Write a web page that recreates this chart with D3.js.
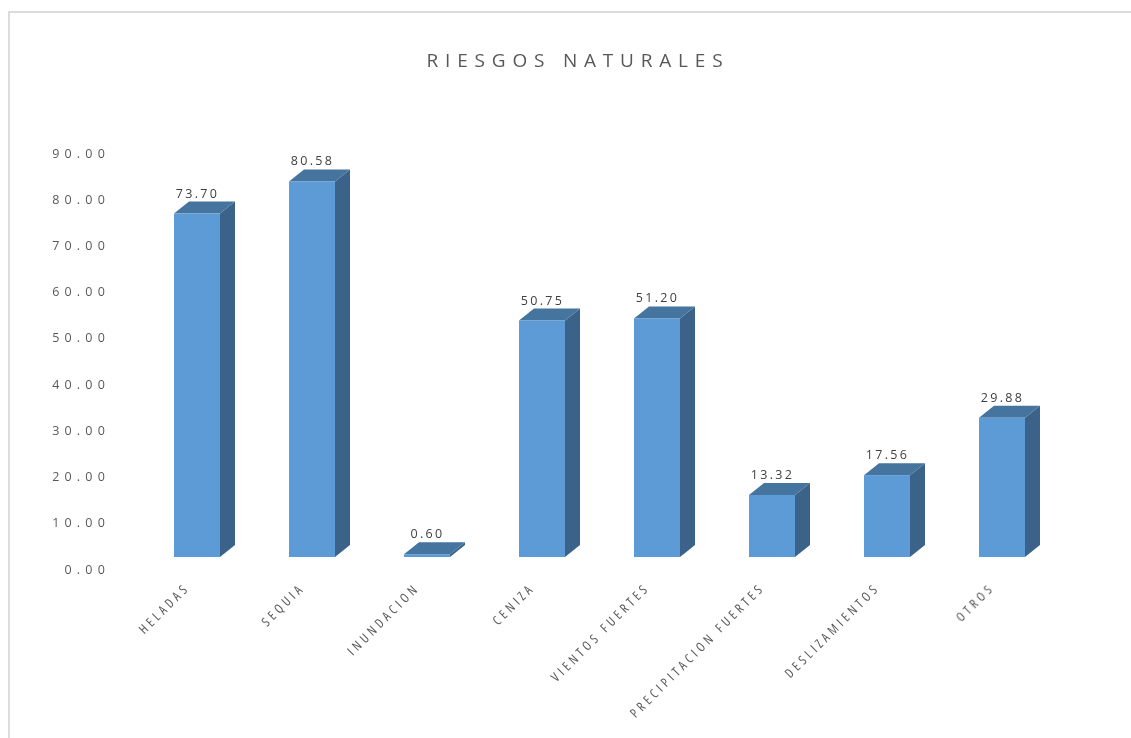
<!DOCTYPE html>
<html><head><meta charset="utf-8">
<script src="https://cdn.jsdelivr.net/npm/d3@7"></script>
<style>
html,body{margin:0;padding:0;background:#fff}
svg{display:block;font-family:"Open Sans",sans-serif}
</style></head><body>
<svg id="c" width="1131" height="738"></svg>
<script>
const categories = ["HELADAS","SEQUIA","INUNDACION","CENIZA","VIENTOS FUERTES","PRECIPITACION FUERTES","DESLIZAMIENTOS","OTROS"];
const values = [73.70,80.58,0.60,50.75,51.20,13.32,17.56,29.88];
const tickValues = [0,10,20,30,40,50,60,70,80,90];
const titleText = "RIESGOS NATURALES";

const svg = d3.select("#c");
const defs = svg.append("defs");
defs.append("filter").attr("id","soft").attr("x","-5%").attr("y","-5%").attr("width","110%").attr("height","110%")
  .append("feGaussianBlur").attr("stdDeviation",0.5);

// frame
const frame = svg.append("g");
frame.append("rect").attr("x",8).attr("y",11).attr("width",1123).attr("height",2).attr("fill","#dcdcdc");
frame.append("rect").attr("x",8).attr("y",11).attr("width",2).attr("height",727).attr("fill","#dcdcdc");

const root = svg.append("g").attr("filter","url(#soft)");

root.append("text").attr("x",578).attr("y",66.5).attr("text-anchor","middle")
  .attr("font-size",19).attr("letter-spacing",6.8).attr("fill","#595959")
  .text(titleText);

const x = d3.scaleBand().domain(categories).range([139.5,1059.5]).paddingInner(0.6).paddingOuter(0.3);
const y = d3.scaleLinear().domain([0,90]).range([557,137.6]);
const yAxisScale = d3.scaleLinear().domain([0,90]).range([569,153]);

const depthX = 15, depthY = 12;

// value axis labels
const ax = root.append("g").attr("transform","translate(110,0)")
  .call(d3.axisLeft(yAxisScale).tickValues(tickValues).tickFormat(d3.format(".2f")).tickSize(0).tickPadding(0));
ax.select(".domain").remove();
ax.selectAll("text").attr("font-family","'Open Sans',sans-serif").attr("font-size",12.5)
  .attr("letter-spacing",5.2).attr("fill","#595959");

const bars = root.append("g").selectAll("g").data(categories.map((c,i)=>({c,v:values[i]}))).join("g");
const bw = x.bandwidth();
bars.append("path").attr("fill","#3a6489")
  .attr("d",d=>{const l=x(d.c)+bw,t=y(d.v),b=y(0);
    return d3.line()([[l,t],[l+depthX,t-depthY],[l+depthX,b-depthY],[l,b]])+"Z";});
bars.append("path").attr("fill","#44749f")
  .attr("d",d=>{const l=x(d.c),t=y(d.v);
    return d3.line()([[l,t],[l+bw,t],[l+bw+depthX,t-depthY],[l+depthX,t-depthY]])+"Z";});
bars.append("rect").attr("fill","#5b9bd5")
  .attr("x",d=>x(d.c)).attr("y",d=>y(d.v)).attr("width",bw).attr("height",d=>y(0)-y(d.v));

// value labels
bars.append("text").attr("x",d=>x(d.c)+bw/2+0.5).attr("y",d=>y(d.v)-depthY-4)
  .attr("text-anchor","middle").attr("font-size",12.5).attr("letter-spacing",2.3).attr("fill","#404040")
  .text(d=>d3.format(".2f")(d.v));

// category labels
root.append("g").selectAll("text").data(categories).join("text")
  .attr("transform",c=>`translate(${x(c)+bw/2-13},582) rotate(-45)`)
  .attr("text-anchor","end").attr("dy","0.71em")
  .attr("font-size",13).attr("letter-spacing",3.6).attr("fill","#595959")
  .attr("font-family","'Open Sans',sans-serif").attr("font-stretch","condensed")
  .text(c=>c);
</script>
</body></html>
